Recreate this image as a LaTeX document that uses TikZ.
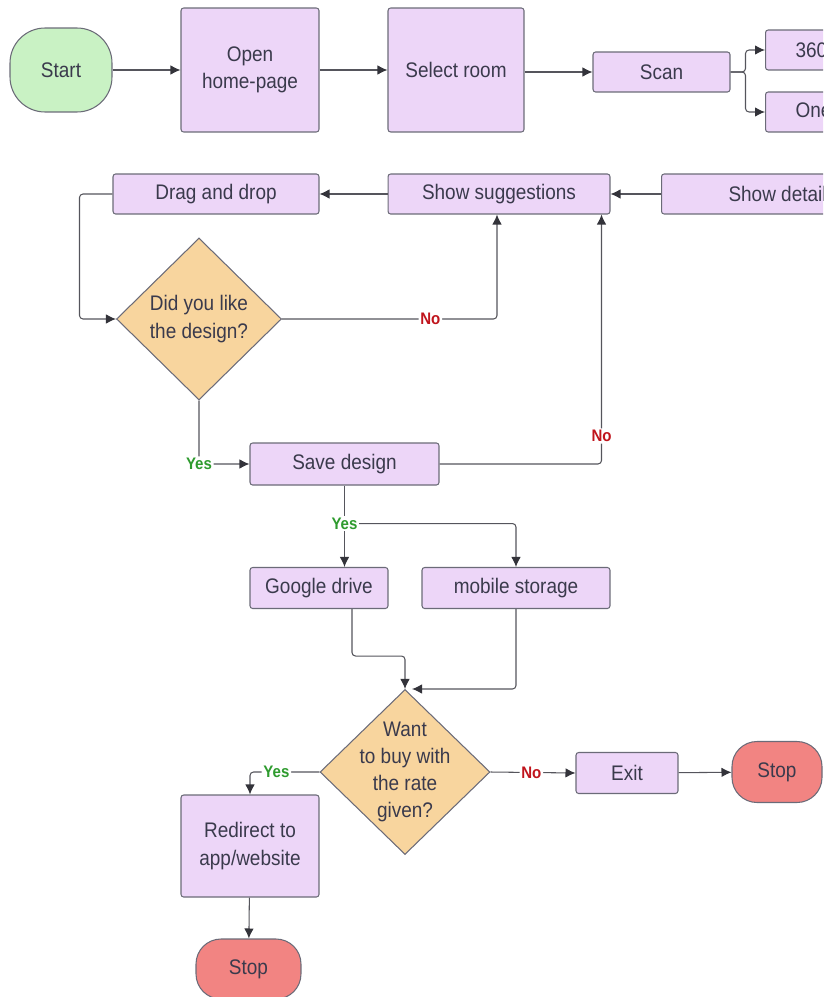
\documentclass[tikz,border=0pt]{standalone}
\usepackage{fontspec}
\setmainfont[FakeStretch=0.9]{Liberation Sans}
\usetikzlibrary{shapes.geometric,arrows.meta,calc}
\definecolor{boxfill}{HTML}{EDD6F8}
\definecolor{edge}{HTML}{6B6B78}
\definecolor{startfill}{HTML}{C9F2C4}
\definecolor{decfill}{HTML}{F8D59E}
\definecolor{stopfill}{HTML}{F28482}
\definecolor{ink}{HTML}{3A3A4C}
\definecolor{wire}{HTML}{55555C}
\definecolor{tipc}{HTML}{33333A}
\definecolor{yesgreen}{HTML}{2E9B2E}
\definecolor{nored}{HTML}{C0141C}

\begin{document}
\begin{tikzpicture}[x=0.02cm,y=-0.02cm,
  font=\fontsize{12}{15.5}\selectfont, text=ink,
  box/.style={draw=edge, fill=boxfill, rounded corners=1.5pt, line width=0.6pt,
    align=center, inner sep=0pt},
  term/.style={draw=edge, line width=0.6pt, align=center, inner sep=0pt},
  decision/.style={diamond, draw=edge, fill=decfill, line width=0.6pt, inner sep=0pt},
  arr/.style={draw=wire, line width=0.6pt, rounded corners=2pt,
    -{Latex[length=0.2cm,width=0.19cm,color=tipc]}},
  yes/.style={text=yesgreen, font=\fontsize{9.5}{10}\selectfont\bfseries, fill=white, inner sep=1pt},
  no/.style={text=nored, font=\fontsize{9.5}{10}\selectfont\bfseries, fill=white, inner sep=1pt}]

\useasboundingbox (0,0) rectangle (823,997);
\clip (0,0) rectangle (823,997);

% top row
\node[term, fill=startfill, rounded corners=0.7cm, minimum width=2.04cm, minimum height=1.68cm] (start) at (61,70) {Start};
\node[box, minimum width=2.76cm, minimum height=2.48cm] (open) at (250,70) {Open\\home-page};
\node[box, minimum width=2.72cm, minimum height=2.48cm] (room) at (456,70) {Select room};
\node[box, minimum width=2.74cm, minimum height=0.8cm] (scan) at (661.5,72) {Scan};
\node[box, anchor=west, inner xsep=0.6cm, minimum height=0.8cm] (v360) at (765,50) {360 view};
\node[box, anchor=west, inner xsep=0.6cm, minimum height=0.8cm] (vone) at (765,112) {One image};

% second row
\node[box, minimum width=4.12cm, minimum height=0.8cm] (drag) at (216,194) {Drag and drop};
\node[box, minimum width=4.44cm, minimum height=0.8cm] (sugg) at (499,194) {Show suggestions};
\node[box, anchor=west, inner xsep=1.34cm, minimum height=0.8cm] (details) at (661,194) {Show details};

% design decision
\node[decision, minimum width=3.3cm, minimum height=3.24cm] (like) at (199,319) {};
\node[align=center] (liket) at (like) {Did you like\\the design?};

\node[box, minimum width=3.78cm, minimum height=0.84cm] (save) at (344.5,464) {Save design};
\node[box, minimum width=2.76cm, minimum height=0.82cm] (gdrive) at (319,588) {Google drive};
\node[box, minimum width=3.76cm, minimum height=0.82cm] (mobile) at (516,588) {mobile storage};

% purchase decision
\node[decision, minimum width=3.4cm, minimum height=3.3cm] (buy) at (405,772) {};
\node[align=center] (buyt) at (buy) {Want\\to buy with\\the rate\\given?};

\node[box, minimum width=2.76cm, minimum height=2.04cm] (redirect) at (250,846) {Redirect to\\app/website};
\node[box, minimum width=2.04cm, minimum height=0.82cm] (exit) at (627,773) {Exit};
\node[term, fill=stopfill, rounded corners=0.5cm, minimum width=1.8cm, minimum height=1.22cm] (stopa) at (777,772) {Stop};
\node[term, fill=stopfill, rounded corners=0.5cm, minimum width=2.1cm, minimum height=1.2cm] (stopb) at (248.5,969) {Stop};

% connectors
\draw[arr] (start) -- (open);
\draw[arr] (open) -- (room);
\draw[arr] (room.east |- scan) -- (scan);
\draw[arr] (scan.east) -- ++(15,0) |- (v360.west);
\draw[arr] (scan.east) -- ++(15,0) |- (vone.west);

\draw[arr] (details) -- (sugg);
\draw[arr] (sugg) -- (drag);
\draw[arr] (drag.west) -- ++(-33,0) |- (like.west);
\draw[arr] (like.east) -| node[no, pos=0.345] {No} ([xshift=-0.04cm]sugg.south);

\draw[arr] (like.south) |- node[yes, pos=0.5] {Yes} (save.west);
\draw[arr] (save.east) -| node[no, pos=0.556] {No} ([xshift=-0.18cm]sugg.south east);

\coordinate (fork) at ($(save.south)+(0,38)$);
\draw[arr] (save.south) -- (save.south |- gdrive.north);
\draw[arr] (fork) -| (mobile.north);
\node[yes] (forkt) at (fork) {Yes};

\draw[arr] ([xshift=0.66cm]gdrive.south) -- ++(0,47) -| (buy.north);
\draw[arr] (mobile.south) |- ($(buy.north)+(7,0)$);

\draw[arr] (buy.west) -| node[yes, pos=0.31] {Yes} (redirect.north);
\draw[arr] (buy.east) -- node[no, pos=0.48] {No} (exit.west);
\draw[arr] (exit) -- (stopa);
\draw[arr] (redirect) -- (stopb);

\end{tikzpicture}
\end{document}
